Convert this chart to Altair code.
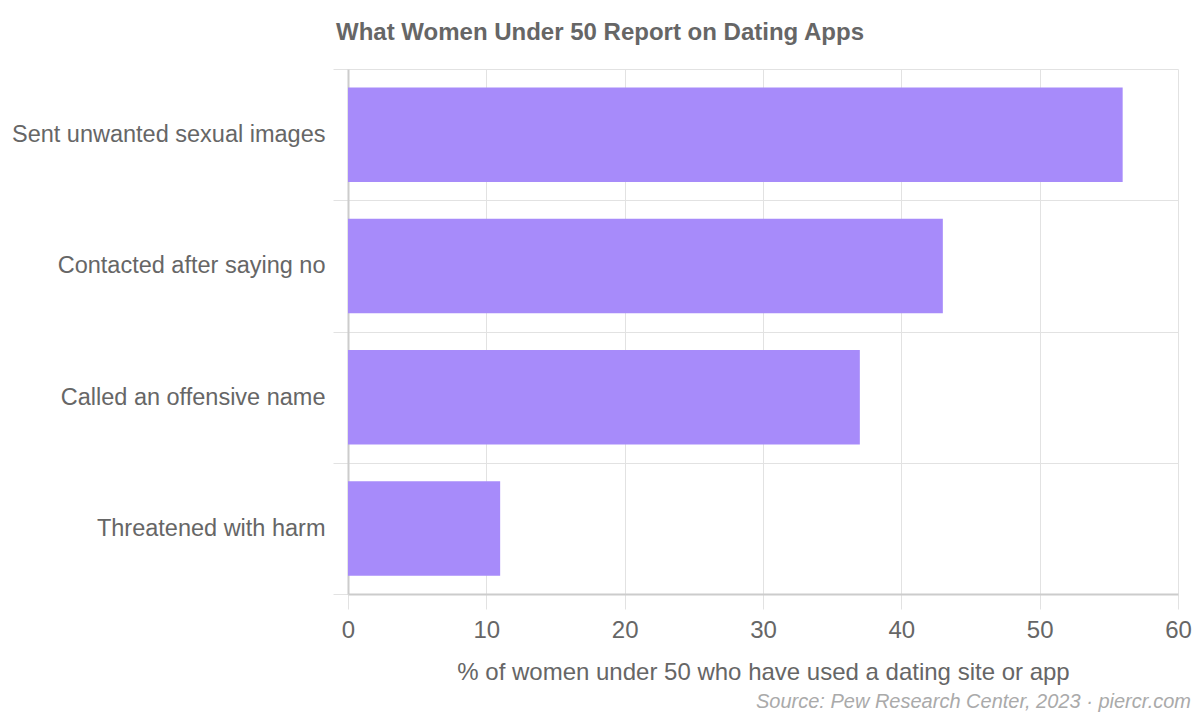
import altair as alt
import pandas as pd

categories = ["Sent unwanted sexual images", "Contacted after saying no",
              "Called an offensive name", "Threatened with harm"]
values = [56, 43, 37, 11]
title_text = "What Women Under 50 Report on Dating Apps"
x_title = "% of women under 50 who have used a dating site or app"
source_text = "Source: Pew Research Center, 2023 · piercr.com"

df = pd.DataFrame({"category": categories, "value": values})
FONT = "Liberation Sans"
TXT = "#666666"
GRID = "#e2e2e2"
DOMAIN = "#cccccc"

bars = alt.Chart(df).mark_bar(color="#a78bfa", height={"band": 0.72}).encode(
    x=alt.X("value:Q",
            scale=alt.Scale(domain=[0, 60], nice=False),
            axis=alt.Axis(title=x_title, values=[0, 10, 20, 30, 40, 50, 60],
                          grid=True, gridColor=GRID, domainColor=DOMAIN, domainWidth=2,
                          tickColor=GRID, tickSize=15, labelPadding=9, labelFlush=False,
                          labelFontSize=24, labelColor=TXT, labelFont=FONT,
                          titleFontSize=24, titleColor=TXT, titleFont=FONT,
                          titleFontWeight="normal", titlePadding=18)),
    y=alt.Y("category:N", sort=categories,
            scale=alt.Scale(paddingInner=0, paddingOuter=0),
            axis=alt.Axis(title=None, grid=True, gridColor=GRID, tickBand="extent",
                          domainColor=DOMAIN, domainWidth=2,
                          tickColor=GRID, tickSize=15, labelPadding=8,
                          labelFontSize=23.5, labelColor=TXT, labelFont=FONT,
                          labelLimit=400)),
)

src = alt.Chart(pd.DataFrame({"t": [source_text]})).mark_text(
    align="right", baseline="alphabetic", fontStyle="italic", fontSize=20,
    color="#aaaaaa", font=FONT
).encode(x=alt.value(843), y=alt.value(639), text="t:N")

chart = alt.layer(bars, src).properties(
    width=830, height=525,
    title=alt.TitleParams(title_text, anchor="start", frame="group", dx=-12,
                          fontSize=24, fontWeight="bold", color=TXT, font=FONT,
                          offset=12),
    autosize=alt.AutoSizeParams(type="none"),
    padding={"left": 340, "top": 61, "right": 14, "bottom": 118},
).configure_view(stroke=None)

chart.save("out.html", embed_options={"renderer": "svg", "actions": False})
